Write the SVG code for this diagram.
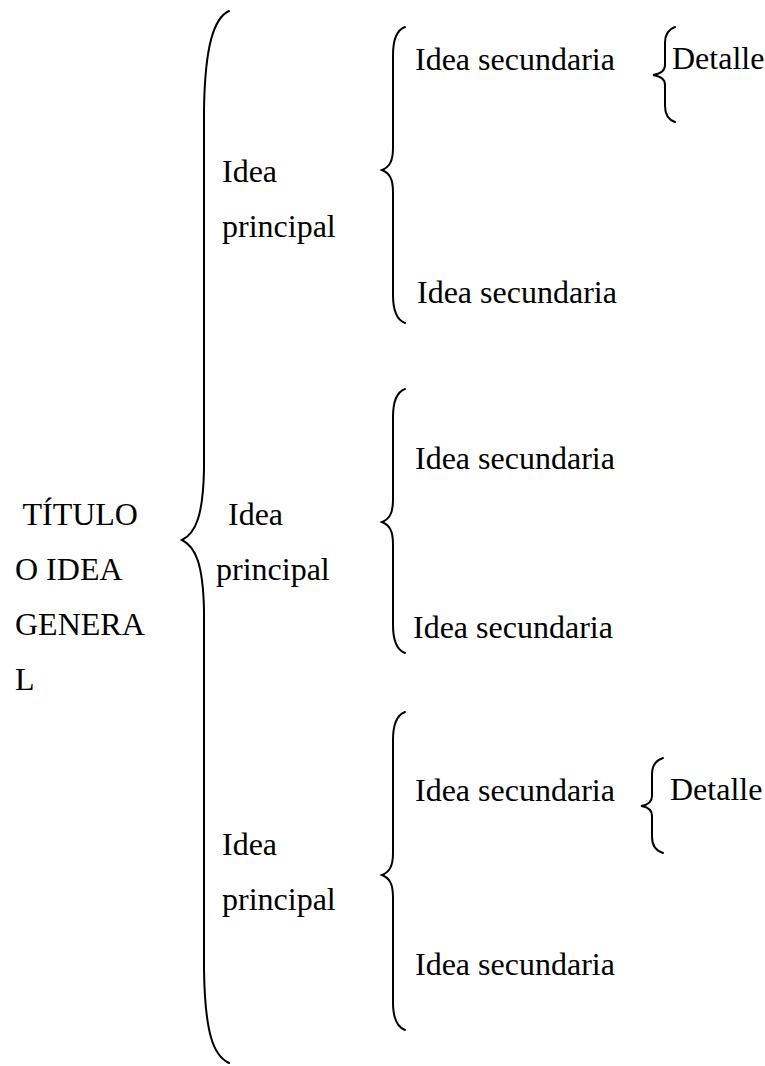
<svg xmlns="http://www.w3.org/2000/svg" width="765" height="1066" viewBox="0 0 765 1066">
<style>
.t{font-family:"Liberation Serif","Times New Roman",serif;font-size:32px;fill:#000}
.b{fill:none;stroke:#000;stroke-width:2;stroke-linecap:round}
</style>
<rect width="765" height="1066" fill="#fff"/>
<g id="connectors">
<path class="b" d="M229,11 C214,18 205,45 204,110 L204,470 C203,515 196,533 182,540 C196,547 203,565 204,610 L204,970 C205,1035 214,1056 229,1063"/>
<path class="b" d="M405,27 C397,30 393,38 393,55 L393,148 C393,162 389,167 382,170 C389,173 393,178 393,192 L393,295 C393,312 397,320 405,323"/>
<path class="b" d="M405,389 C397,392 393,400 393,417 L393,500 C393,514 389,519 382,522 C389,525 393,530 393,544 L393,625 C393,642 397,650 405,653"/>
<path class="b" d="M405,712 C397,715 393,723 393,740 L393,853 C393,867 389,872 382,875 C389,878 393,883 393,897 L393,1002 C393,1019 397,1027 405,1030"/>
<path class="b" d="M675,27 C669,29 665,34 665,43 L665,65 C665,71 660,74 653,75 C660,76 665,79 665,85 L665,106 C665,115 669,120 675,122"/>
<path class="b" d="M663,758 C657,760 652,765 652,774 L652,796 C652,802 648,805 641,806 C648,807 652,810 652,816 L652,837 C652,846 657,851 663,853"/>
</g>
<g id="title"><text class="t" x="15" y="525" xml:space="preserve"> TÍTULO</text><text class="t" x="15" y="580">O IDEA</text><text class="t" x="15" y="635">GENERA</text><text class="t" x="15" y="690">L</text></g>
<g id="principal1"><text class="t" x="222" y="182">Idea</text><text class="t" x="222" y="237">principal</text></g>
<g id="principal2"><text class="t" x="228" y="525">Idea</text><text class="t" x="216" y="580">principal</text></g>
<g id="principal3"><text class="t" x="222" y="855">Idea</text><text class="t" x="222" y="910">principal</text></g>
<g id="sec1a"><text class="t" x="415" y="70">Idea secundaria</text></g>
<g id="sec1b"><text class="t" x="417" y="303">Idea secundaria</text></g>
<g id="sec2a"><text class="t" x="415" y="469">Idea secundaria</text></g>
<g id="sec2b"><text class="t" x="413" y="638">Idea secundaria</text></g>
<g id="sec3a"><text class="t" x="415" y="801">Idea secundaria</text></g>
<g id="sec3b"><text class="t" x="415" y="975">Idea secundaria</text></g>
<g id="detalle1"><text class="t" x="672" y="69">Detalle</text></g>
<g id="detalle2"><text class="t" x="670" y="800">Detalle</text></g>
</svg>
